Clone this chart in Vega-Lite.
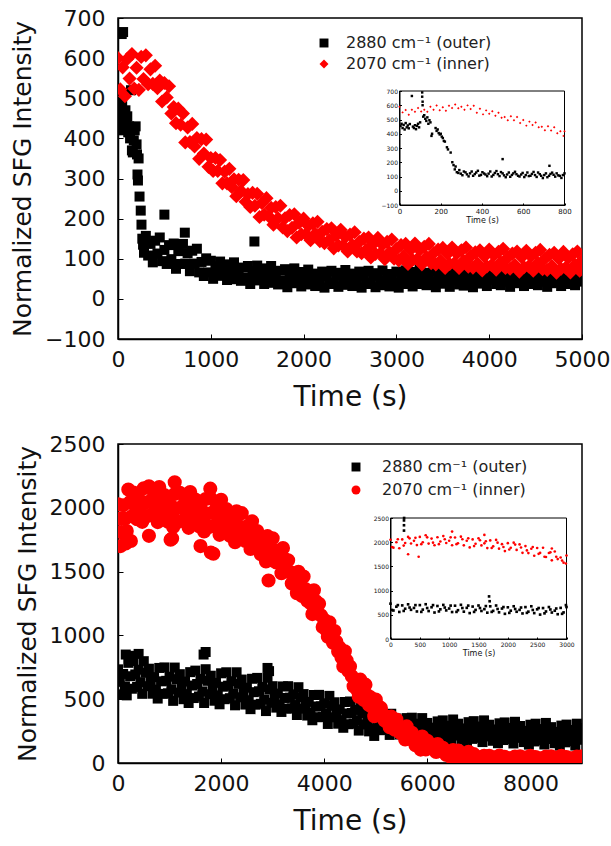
{
"$schema": "https://vega.github.io/schema/vega-lite/v6.json",
"padding": {"left": 9, "top": 6, "right": 5, "bottom": 5},
"spacing": 20,
"config": {
 "font": "DejaVu Sans",
 "view": {"stroke": "#000", "strokeWidth": 1.5},
 "axis": {"labelFont": "DejaVu Sans", "titleFont": "DejaVu Sans", "labelColor": "#111", "titleColor": "#111", "titleFontWeight": "normal", "domainColor": "#000", "domainWidth": 1.5, "tickColor": "#000", "grid": false, "labelFlush": false, "labelOverlap": false},
 "legend": {"labelFont": "DejaVu Sans", "labelColor": "#222"}
},
"resolve": {"scale": {"color": "independent", "shape": "independent"}},
"datasets": {
"A": [
{"s":"o","t":10,"v":480},{"s":"o","t":15,"v":440},{"s":"o","t":25,"v":465},{"s":"o","t":30,"v":420},{"s":"o","t":40,"v":660},{"s":"o","t":55,"v":665},{"s":"o","t":45,"v":490},{"s":"o","t":60,"v":450},{"s":"o","t":70,"v":425},{"s":"o","t":80,"v":470},{"s":"o","t":90,"v":440},{"s":"o","t":100,"v":455},{"s":"o","t":110,"v":415},{"s":"o","t":120,"v":430},{"s":"o","t":130,"v":400},{"s":"o","t":140,"v":520},{"s":"o","t":150,"v":370},{"s":"o","t":160,"v":365},{"s":"o","t":170,"v":395},{"s":"o","t":180,"v":420},{"s":"o","t":190,"v":430},{"s":"o","t":200,"v":385},{"s":"o","t":205,"v":360},{"s":"o","t":210,"v":310},{"s":"o","t":215,"v":295},{"s":"o","t":222,"v":350},{"s":"o","t":232,"v":255},{"s":"o","t":245,"v":220},{"s":"o","t":253,"v":185},{"s":"o","t":262,"v":150},{"s":"o","t":270,"v":135},{"s":"o","t":280,"v":115},{"s":"o","t":290,"v":145},{"s":"o","t":500,"v":210},{"s":"o","t":720,"v":165},{"s":"o","t":1470,"v":143},
{"s":"o","t":300,"v":157},{"s":"o","t":325,"v":108},{"s":"o","t":350,"v":137},{"s":"o","t":375,"v":91},{"s":"o","t":400,"v":145},{"s":"o","t":425,"v":113},{"s":"o","t":450,"v":153},{"s":"o","t":475,"v":94},{"s":"o","t":500,"v":122},{"s":"o","t":525,"v":87},{"s":"o","t":550,"v":134},{"s":"o","t":575,"v":99},{"s":"o","t":600,"v":138},{"s":"o","t":625,"v":75},{"s":"o","t":650,"v":119},{"s":"o","t":675,"v":87},{"s":"o","t":700,"v":137},{"s":"o","t":725,"v":88},{"s":"o","t":750,"v":114},{"s":"o","t":775,"v":69},{"s":"o","t":800,"v":120},{"s":"o","t":825,"v":88},{"s":"o","t":850,"v":125},{"s":"o","t":875,"v":66},{"s":"o","t":900,"v":92},{"s":"o","t":925,"v":57},{"s":"o","t":950,"v":101},{"s":"o","t":975,"v":66},
{"s":"o","t":1000,"v":95},{"s":"o","t":1025,"v":50},{"s":"o","t":1050,"v":81},{"s":"o","t":1075,"v":58},{"s":"o","t":1100,"v":93},{"s":"o","t":1125,"v":58},{"s":"o","t":1150,"v":79},{"s":"o","t":1175,"v":47},{"s":"o","t":1200,"v":86},{"s":"o","t":1225,"v":63},{"s":"o","t":1250,"v":91},{"s":"o","t":1275,"v":49},{"s":"o","t":1300,"v":70},{"s":"o","t":1325,"v":45},{"s":"o","t":1350,"v":78},{"s":"o","t":1375,"v":53},{"s":"o","t":1400,"v":82},{"s":"o","t":1425,"v":37},{"s":"o","t":1450,"v":69},{"s":"o","t":1475,"v":46},{"s":"o","t":1500,"v":83},{"s":"o","t":1525,"v":48},{"s":"o","t":1550,"v":69},{"s":"o","t":1575,"v":37},{"s":"o","t":1600,"v":76},{"s":"o","t":1625,"v":53},{"s":"o","t":1650,"v":82},{"s":"o","t":1675,"v":40},{"s":"o","t":1700,"v":61},{"s":"o","t":1725,"v":36},{"s":"o","t":1750,"v":70},{"s":"o","t":1775,"v":45},{"s":"o","t":1800,"v":74},{"s":"o","t":1825,"v":29},{"s":"o","t":1850,"v":62},{"s":"o","t":1875,"v":39},{"s":"o","t":1900,"v":76},{"s":"o","t":1925,"v":41},{"s":"o","t":1950,"v":63},{"s":"o","t":1975,"v":31},
{"s":"o","t":2000,"v":67},{"s":"o","t":2025,"v":48},{"s":"o","t":2050,"v":73},{"s":"o","t":2075,"v":36},{"s":"o","t":2100,"v":54},{"s":"o","t":2125,"v":32},{"s":"o","t":2150,"v":63},{"s":"o","t":2175,"v":41},{"s":"o","t":2200,"v":68},{"s":"o","t":2225,"v":28},{"s":"o","t":2250,"v":57},{"s":"o","t":2275,"v":37},{"s":"o","t":2300,"v":70},{"s":"o","t":2325,"v":39},{"s":"o","t":2350,"v":59},{"s":"o","t":2375,"v":30},{"s":"o","t":2400,"v":65},{"s":"o","t":2425,"v":46},{"s":"o","t":2450,"v":72},{"s":"o","t":2475,"v":35},{"s":"o","t":2500,"v":54},{"s":"o","t":2525,"v":32},{"s":"o","t":2550,"v":63},{"s":"o","t":2575,"v":41},{"s":"o","t":2600,"v":68},{"s":"o","t":2625,"v":28},{"s":"o","t":2650,"v":57},{"s":"o","t":2675,"v":37},{"s":"o","t":2700,"v":70},{"s":"o","t":2725,"v":39},{"s":"o","t":2750,"v":58},{"s":"o","t":2775,"v":29},{"s":"o","t":2800,"v":64},{"s":"o","t":2825,"v":45},{"s":"o","t":2850,"v":71},{"s":"o","t":2875,"v":34},{"s":"o","t":2900,"v":53},{"s":"o","t":2925,"v":31},{"s":"o","t":2950,"v":62},{"s":"o","t":2975,"v":40},
{"s":"o","t":3000,"v":68},{"s":"o","t":3025,"v":28},{"s":"o","t":3050,"v":57},{"s":"o","t":3075,"v":37},{"s":"o","t":3100,"v":71},{"s":"o","t":3125,"v":40},{"s":"o","t":3150,"v":60},{"s":"o","t":3175,"v":31},{"s":"o","t":3200,"v":67},{"s":"o","t":3225,"v":48},{"s":"o","t":3250,"v":74},{"s":"o","t":3275,"v":37},{"s":"o","t":3300,"v":56},{"s":"o","t":3325,"v":34},{"s":"o","t":3350,"v":65},{"s":"o","t":3375,"v":43},{"s":"o","t":3400,"v":69},{"s":"o","t":3425,"v":29},{"s":"o","t":3450,"v":58},{"s":"o","t":3475,"v":38},{"s":"o","t":3500,"v":70},{"s":"o","t":3525,"v":39},{"s":"o","t":3550,"v":59},{"s":"o","t":3575,"v":30},{"s":"o","t":3600,"v":65},{"s":"o","t":3625,"v":46},{"s":"o","t":3650,"v":73},{"s":"o","t":3675,"v":36},{"s":"o","t":3700,"v":55},{"s":"o","t":3725,"v":33},{"s":"o","t":3750,"v":64},{"s":"o","t":3775,"v":42},{"s":"o","t":3800,"v":69},{"s":"o","t":3825,"v":29},{"s":"o","t":3850,"v":58},{"s":"o","t":3875,"v":38},{"s":"o","t":3900,"v":72},{"s":"o","t":3925,"v":41},{"s":"o","t":3950,"v":61},{"s":"o","t":3975,"v":32},
{"s":"o","t":4000,"v":67},{"s":"o","t":4025,"v":48},{"s":"o","t":4050,"v":74},{"s":"o","t":4075,"v":37},{"s":"o","t":4100,"v":56},{"s":"o","t":4125,"v":34},{"s":"o","t":4150,"v":65},{"s":"o","t":4175,"v":43},{"s":"o","t":4200,"v":70},{"s":"o","t":4225,"v":30},{"s":"o","t":4250,"v":59},{"s":"o","t":4275,"v":39},{"s":"o","t":4300,"v":72},{"s":"o","t":4325,"v":41},{"s":"o","t":4350,"v":61},{"s":"o","t":4375,"v":32},{"s":"o","t":4400,"v":67},{"s":"o","t":4425,"v":48},{"s":"o","t":4450,"v":74},{"s":"o","t":4475,"v":37},{"s":"o","t":4500,"v":56},{"s":"o","t":4525,"v":34},{"s":"o","t":4550,"v":65},{"s":"o","t":4575,"v":43},{"s":"o","t":4600,"v":70},{"s":"o","t":4625,"v":30},{"s":"o","t":4650,"v":59},{"s":"o","t":4675,"v":39},{"s":"o","t":4700,"v":72},{"s":"o","t":4725,"v":41},{"s":"o","t":4750,"v":61},{"s":"o","t":4775,"v":32},{"s":"o","t":4800,"v":67},{"s":"o","t":4825,"v":48},{"s":"o","t":4850,"v":74},{"s":"o","t":4875,"v":37},{"s":"o","t":4900,"v":56},{"s":"o","t":4925,"v":34},{"s":"o","t":4950,"v":65},{"s":"o","t":4975,"v":43},{"s":"o","t":5000,"v":70},
{"s":"i","t":0,"v":600},{"s":"i","t":25,"v":522},{"s":"i","t":50,"v":577},{"s":"i","t":75,"v":505},{"s":"i","t":100,"v":598},{"s":"i","t":125,"v":549},{"s":"i","t":150,"v":610},{"s":"i","t":175,"v":524},{"s":"i","t":200,"v":576},{"s":"i","t":225,"v":521},{"s":"i","t":250,"v":603},{"s":"i","t":275,"v":548},{"s":"i","t":300,"v":607},{"s":"i","t":325,"v":535},{"s":"i","t":350,"v":572},{"s":"i","t":375,"v":536},{"s":"i","t":400,"v":581},{"s":"i","t":425,"v":525},{"s":"i","t":450,"v":544},{"s":"i","t":475,"v":492},{"s":"i","t":500,"v":538},{"s":"i","t":525,"v":502},{"s":"i","t":550,"v":530},{"s":"i","t":575,"v":462},{"s":"i","t":600,"v":478},{"s":"i","t":625,"v":438},{"s":"i","t":650,"v":474},{"s":"i","t":675,"v":434},{"s":"i","t":700,"v":462},{"s":"i","t":725,"v":390},{"s":"i","t":750,"v":427},{"s":"i","t":775,"v":391},{"s":"i","t":800,"v":436},{"s":"i","t":825,"v":380},{"s":"i","t":850,"v":401},{"s":"i","t":875,"v":349},{"s":"i","t":900,"v":398},{"s":"i","t":925,"v":362},{"s":"i","t":950,"v":397},{"s":"i","t":975,"v":329},
{"s":"i","t":1000,"v":351},{"s":"i","t":1025,"v":319},{"s":"i","t":1050,"v":351},{"s":"i","t":1075,"v":319},{"s":"i","t":1100,"v":346},{"s":"i","t":1125,"v":288},{"s":"i","t":1150,"v":317},{"s":"i","t":1175,"v":288},{"s":"i","t":1200,"v":324},{"s":"i","t":1225,"v":279},{"s":"i","t":1250,"v":298},{"s":"i","t":1275,"v":256},{"s":"i","t":1300,"v":297},{"s":"i","t":1325,"v":269},{"s":"i","t":1350,"v":296},{"s":"i","t":1375,"v":242},{"s":"i","t":1400,"v":261},{"s":"i","t":1425,"v":229},{"s":"i","t":1450,"v":264},{"s":"i","t":1475,"v":232},{"s":"i","t":1500,"v":262},{"s":"i","t":1525,"v":204},{"s":"i","t":1550,"v":239},{"s":"i","t":1575,"v":210},{"s":"i","t":1600,"v":251},{"s":"i","t":1625,"v":206},{"s":"i","t":1650,"v":227},{"s":"i","t":1675,"v":185},{"s":"i","t":1700,"v":229},{"s":"i","t":1725,"v":201},{"s":"i","t":1750,"v":232},{"s":"i","t":1775,"v":178},{"s":"i","t":1800,"v":201},{"s":"i","t":1825,"v":169},{"s":"i","t":1850,"v":209},{"s":"i","t":1875,"v":177},{"s":"i","t":1900,"v":211},{"s":"i","t":1925,"v":153},{"s":"i","t":1950,"v":190},{"s":"i","t":1975,"v":161},
{"s":"i","t":2000,"v":200},{"s":"i","t":2025,"v":161},{"s":"i","t":2050,"v":182},{"s":"i","t":2075,"v":146},{"s":"i","t":2100,"v":188},{"s":"i","t":2125,"v":162},{"s":"i","t":2150,"v":192},{"s":"i","t":2175,"v":144},{"s":"i","t":2200,"v":167},{"s":"i","t":2225,"v":139},{"s":"i","t":2250,"v":174},{"s":"i","t":2275,"v":146},{"s":"i","t":2300,"v":176},{"s":"i","t":2325,"v":126},{"s":"i","t":2350,"v":158},{"s":"i","t":2375,"v":133},{"s":"i","t":2400,"v":172},{"s":"i","t":2425,"v":133},{"s":"i","t":2450,"v":154},{"s":"i","t":2475,"v":118},{"s":"i","t":2500,"v":160},{"s":"i","t":2525,"v":134},{"s":"i","t":2550,"v":166},{"s":"i","t":2575,"v":118},{"s":"i","t":2600,"v":142},{"s":"i","t":2625,"v":114},{"s":"i","t":2650,"v":150},{"s":"i","t":2675,"v":122},{"s":"i","t":2700,"v":153},{"s":"i","t":2725,"v":103},{"s":"i","t":2750,"v":137},{"s":"i","t":2775,"v":112},{"s":"i","t":2800,"v":152},{"s":"i","t":2825,"v":113},{"s":"i","t":2850,"v":135},{"s":"i","t":2875,"v":99},{"s":"i","t":2900,"v":142},{"s":"i","t":2925,"v":116},{"s":"i","t":2950,"v":148},{"s":"i","t":2975,"v":100},
{"s":"i","t":3000,"v":124},{"s":"i","t":3025,"v":96},{"s":"i","t":3050,"v":134},{"s":"i","t":3075,"v":106},{"s":"i","t":3100,"v":137},{"s":"i","t":3125,"v":87},{"s":"i","t":3150,"v":122},{"s":"i","t":3175,"v":97},{"s":"i","t":3200,"v":138},{"s":"i","t":3225,"v":99},{"s":"i","t":3250,"v":122},{"s":"i","t":3275,"v":86},{"s":"i","t":3300,"v":130},{"s":"i","t":3325,"v":104},{"s":"i","t":3350,"v":137},{"s":"i","t":3375,"v":89},{"s":"i","t":3400,"v":114},{"s":"i","t":3425,"v":86},{"s":"i","t":3450,"v":123},{"s":"i","t":3475,"v":95},{"s":"i","t":3500,"v":127},{"s":"i","t":3525,"v":77},{"s":"i","t":3550,"v":112},{"s":"i","t":3575,"v":87},{"s":"i","t":3600,"v":128},{"s":"i","t":3625,"v":89},{"s":"i","t":3650,"v":113},{"s":"i","t":3675,"v":77},{"s":"i","t":3700,"v":121},{"s":"i","t":3725,"v":95},{"s":"i","t":3750,"v":128},{"s":"i","t":3775,"v":80},{"s":"i","t":3800,"v":106},{"s":"i","t":3825,"v":78},{"s":"i","t":3850,"v":116},{"s":"i","t":3875,"v":88},{"s":"i","t":3900,"v":121},{"s":"i","t":3925,"v":71},{"s":"i","t":3950,"v":106},{"s":"i","t":3975,"v":81},
{"s":"i","t":4000,"v":123},{"s":"i","t":4025,"v":84},{"s":"i","t":4050,"v":109},{"s":"i","t":4075,"v":73},{"s":"i","t":4100,"v":117},{"s":"i","t":4125,"v":91},{"s":"i","t":4150,"v":125},{"s":"i","t":4175,"v":77},{"s":"i","t":4200,"v":103},{"s":"i","t":4225,"v":75},{"s":"i","t":4250,"v":113},{"s":"i","t":4275,"v":85},{"s":"i","t":4300,"v":118},{"s":"i","t":4325,"v":68},{"s":"i","t":4350,"v":104},{"s":"i","t":4375,"v":79},{"s":"i","t":4400,"v":120},{"s":"i","t":4425,"v":81},{"s":"i","t":4450,"v":106},{"s":"i","t":4475,"v":70},{"s":"i","t":4500,"v":115},{"s":"i","t":4525,"v":89},{"s":"i","t":4550,"v":122},{"s":"i","t":4575,"v":74},{"s":"i","t":4600,"v":100},{"s":"i","t":4625,"v":72},{"s":"i","t":4650,"v":110},{"s":"i","t":4675,"v":82},{"s":"i","t":4700,"v":115},{"s":"i","t":4725,"v":65},{"s":"i","t":4750,"v":100},{"s":"i","t":4775,"v":75},{"s":"i","t":4800,"v":117},{"s":"i","t":4825,"v":78},{"s":"i","t":4850,"v":102},{"s":"i","t":4875,"v":66},{"s":"i","t":4900,"v":111},{"s":"i","t":4925,"v":85},{"s":"i","t":4950,"v":118},{"s":"i","t":4975,"v":70},{"s":"i","t":5000,"v":96}
],
"AI": [
{"s":"o","t":5,"v":455},{"s":"o","t":10,"v":470},{"s":"o","t":15,"v":440},{"s":"o","t":20,"v":462},{"s":"o","t":25,"v":430},{"s":"o","t":30,"v":475},{"s":"o","t":35,"v":445},{"s":"o","t":40,"v":458},{"s":"o","t":45,"v":438},{"s":"o","t":50,"v":468},{"s":"o","t":60,"v":665},{"s":"o","t":65,"v":450},{"s":"o","t":70,"v":440},{"s":"o","t":75,"v":460},{"s":"o","t":80,"v":432},{"s":"o","t":85,"v":455},{"s":"o","t":90,"v":470},{"s":"o","t":95,"v":445},{"s":"o","t":100,"v":480},{"s":"o","t":110,"v":690},{"s":"o","t":110,"v":660},{"s":"o","t":112,"v":625},{"s":"o","t":112,"v":600},{"s":"o","t":115,"v":520},{"s":"o","t":120,"v":530},{"s":"o","t":125,"v":505},{"s":"o","t":130,"v":490},{"s":"o","t":135,"v":515},{"s":"o","t":140,"v":470},{"s":"o","t":145,"v":495},{"s":"o","t":150,"v":480},{"s":"o","t":155,"v":385},{"s":"o","t":158,"v":400},{"s":"o","t":175,"v":440},{"s":"o","t":180,"v":420},{"s":"o","t":185,"v":430},{"s":"o","t":190,"v":405},{"s":"o","t":195,"v":395},{"s":"o","t":200,"v":400},{"s":"o","t":205,"v":380},{"s":"o","t":210,"v":370},{"s":"o","t":215,"v":350},{"s":"o","t":220,"v":345},{"s":"o","t":230,"v":305},{"s":"o","t":235,"v":290},{"s":"o","t":248,"v":268},{"s":"o","t":256,"v":200},{"s":"o","t":262,"v":180},{"s":"o","t":268,"v":150},{"s":"o","t":272,"v":170},{"s":"o","t":278,"v":130},{"s":"o","t":285,"v":125},
{"s":"o","t":290,"v":145},{"s":"o","t":305,"v":109},{"s":"o","t":320,"v":129},{"s":"o","t":335,"v":101},{"s":"o","t":350,"v":135},{"s":"o","t":365,"v":117},{"s":"o","t":380,"v":140},{"s":"o","t":395,"v":111},{"s":"o","t":410,"v":121},{"s":"o","t":425,"v":102},{"s":"o","t":440,"v":135},{"s":"o","t":455,"v":111},{"s":"o","t":470,"v":138},{"s":"o","t":485,"v":103},{"s":"o","t":500,"v":122},{"s":"o","t":500,"v":222},{"s":"o","t":515,"v":95},{"s":"o","t":530,"v":128},{"s":"o","t":545,"v":111},{"s":"o","t":560,"v":133},{"s":"o","t":575,"v":105},{"s":"o","t":590,"v":114},{"s":"o","t":605,"v":96},{"s":"o","t":620,"v":128},{"s":"o","t":635,"v":105},{"s":"o","t":650,"v":132},{"s":"o","t":665,"v":97},{"s":"o","t":680,"v":116},{"s":"o","t":695,"v":89},{"s":"o","t":710,"v":122},{"s":"o","t":725,"v":105},{"s":"o","t":727,"v":175},{"s":"o","t":740,"v":127},{"s":"o","t":755,"v":99},{"s":"o","t":770,"v":108},{"s":"o","t":785,"v":90},{"s":"o","t":800,"v":122},
{"s":"o","t":297,"v":120},{"s":"o","t":312,"v":135},{"s":"o","t":327,"v":115},{"s":"o","t":342,"v":122},{"s":"o","t":357,"v":105},{"s":"o","t":372,"v":128},{"s":"o","t":387,"v":106},{"s":"o","t":402,"v":130},{"s":"o","t":417,"v":114},{"s":"o","t":432,"v":120},{"s":"o","t":447,"v":100},{"s":"o","t":462,"v":125},{"s":"o","t":477,"v":116},{"s":"o","t":492,"v":131},{"s":"o","t":507,"v":108},{"s":"o","t":522,"v":114},{"s":"o","t":537,"v":98},{"s":"o","t":552,"v":122},{"s":"o","t":567,"v":116},{"s":"o","t":582,"v":100},{"s":"o","t":597,"v":125},{"s":"o","t":612,"v":110},{"s":"o","t":627,"v":103},{"s":"o","t":642,"v":118},{"s":"o","t":657,"v":110},{"s":"o","t":672,"v":128},{"s":"o","t":687,"v":105},{"s":"o","t":702,"v":110},{"s":"o","t":717,"v":95},{"s":"o","t":732,"v":118},{"s":"o","t":747,"v":112},{"s":"o","t":762,"v":122},{"s":"o","t":777,"v":104},{"s":"o","t":792,"v":110},
{"s":"i","t":0,"v":590},{"s":"i","t":15,"v":550},{"s":"i","t":30,"v":566},{"s":"i","t":45,"v":534},{"s":"i","t":60,"v":569},{"s":"i","t":75,"v":555},{"s":"i","t":90,"v":581},{"s":"i","t":105,"v":556},{"s":"i","t":120,"v":569},{"s":"i","t":135,"v":554},{"s":"i","t":150,"v":590},{"s":"i","t":165,"v":568},{"s":"i","t":180,"v":598},{"s":"i","t":195,"v":565},{"s":"i","t":210,"v":586},{"s":"i","t":225,"v":561},{"s":"i","t":240,"v":596},{"s":"i","t":255,"v":581},{"s":"i","t":270,"v":605},{"s":"i","t":285,"v":579},{"s":"i","t":300,"v":590},{"s":"i","t":315,"v":569},{"s":"i","t":330,"v":599},{"s":"i","t":345,"v":573},{"s":"i","t":360,"v":596},{"s":"i","t":375,"v":548},{"s":"i","t":390,"v":576},{"s":"i","t":405,"v":536},{"s":"i","t":420,"v":564},{"s":"i","t":435,"v":541},{"s":"i","t":450,"v":558},{"s":"i","t":465,"v":526},{"s":"i","t":480,"v":548},{"s":"i","t":495,"v":512},{"s":"i","t":510,"v":517},{"s":"i","t":525,"v":495},{"s":"i","t":540,"v":523},{"s":"i","t":555,"v":495},{"s":"i","t":570,"v":517},{"s":"i","t":585,"v":476},{"s":"i","t":600,"v":497},{"s":"i","t":615,"v":457},{"s":"i","t":630,"v":485},{"s":"i","t":645,"v":462},{"s":"i","t":660,"v":479},{"s":"i","t":675,"v":445},{"s":"i","t":690,"v":449},{"s":"i","t":705,"v":425},{"s":"i","t":720,"v":452},{"s":"i","t":735,"v":423},{"s":"i","t":750,"v":445},{"s":"i","t":765,"v":404},{"s":"i","t":780,"v":418},{"s":"i","t":795,"v":385},{"s":"i","t":800,"v":417}
],
"B": [
{"s":"o","t":0,"v":734},{"s":"o","t":35,"v":636},{"s":"o","t":70,"v":538},{"s":"o","t":100,"v":698},{"s":"o","t":135,"v":600},{"s":"o","t":170,"v":530},{"s":"o","t":200,"v":785},{"s":"o","t":235,"v":680},{"s":"o","t":270,"v":582},{"s":"o","t":300,"v":799},{"s":"o","t":335,"v":694},{"s":"o","t":370,"v":596},{"s":"o","t":400,"v":731},{"s":"o","t":435,"v":633},{"s":"o","t":470,"v":542},{"s":"o","t":500,"v":798},{"s":"o","t":535,"v":707},{"s":"o","t":570,"v":602},{"s":"o","t":600,"v":739},{"s":"o","t":635,"v":641},{"s":"o","t":670,"v":543},{"s":"o","t":700,"v":673},{"s":"o","t":735,"v":575},{"s":"o","t":770,"v":505},{"s":"o","t":800,"v":745},{"s":"o","t":835,"v":640},{"s":"o","t":870,"v":542},{"s":"o","t":900,"v":749},{"s":"o","t":935,"v":644},{"s":"o","t":970,"v":546},
{"s":"o","t":1000,"v":676},{"s":"o","t":1035,"v":578},{"s":"o","t":1070,"v":487},{"s":"o","t":1100,"v":748},{"s":"o","t":1135,"v":657},{"s":"o","t":1170,"v":552},{"s":"o","t":1200,"v":696},{"s":"o","t":1235,"v":598},{"s":"o","t":1270,"v":500},{"s":"o","t":1300,"v":638},{"s":"o","t":1335,"v":540},{"s":"o","t":1370,"v":470},{"s":"o","t":1400,"v":712},{"s":"o","t":1435,"v":607},{"s":"o","t":1470,"v":509},{"s":"o","t":1500,"v":724},{"s":"o","t":1535,"v":619},{"s":"o","t":1570,"v":521},{"s":"o","t":1600,"v":659},{"s":"o","t":1635,"v":561},{"s":"o","t":1670,"v":470},{"s":"o","t":1700,"v":735},{"s":"o","t":1735,"v":644},{"s":"o","t":1770,"v":539},{"s":"o","t":1800,"v":684},{"s":"o","t":1835,"v":586},{"s":"o","t":1870,"v":488},{"s":"o","t":1900,"v":628},{"s":"o","t":1935,"v":530},{"s":"o","t":1970,"v":460},
{"s":"o","t":2000,"v":703},{"s":"o","t":2035,"v":598},{"s":"o","t":2070,"v":500},{"s":"o","t":2100,"v":711},{"s":"o","t":2135,"v":606},{"s":"o","t":2170,"v":508},{"s":"o","t":2200,"v":641},{"s":"o","t":2235,"v":543},{"s":"o","t":2270,"v":452},{"s":"o","t":2300,"v":711},{"s":"o","t":2335,"v":620},{"s":"o","t":2370,"v":515},{"s":"o","t":2400,"v":654},{"s":"o","t":2435,"v":556},{"s":"o","t":2470,"v":458},{"s":"o","t":2500,"v":590},{"s":"o","t":2535,"v":492},{"s":"o","t":2570,"v":422},{"s":"o","t":2600,"v":660},{"s":"o","t":2635,"v":555},{"s":"o","t":2670,"v":457},{"s":"o","t":2700,"v":667},{"s":"o","t":2735,"v":562},{"s":"o","t":2770,"v":464},{"s":"o","t":2800,"v":596},{"s":"o","t":2835,"v":498},{"s":"o","t":2870,"v":407},{"s":"o","t":2900,"v":668},{"s":"o","t":2935,"v":577},{"s":"o","t":2970,"v":472},
{"s":"o","t":3000,"v":602},{"s":"o","t":3035,"v":518},{"s":"o","t":3070,"v":434},{"s":"o","t":3100,"v":544},{"s":"o","t":3135,"v":460},{"s":"o","t":3170,"v":400},{"s":"o","t":3200,"v":600},{"s":"o","t":3235,"v":510},{"s":"o","t":3270,"v":426},{"s":"o","t":3300,"v":602},{"s":"o","t":3335,"v":512},{"s":"o","t":3370,"v":428},{"s":"o","t":3400,"v":538},{"s":"o","t":3435,"v":454},{"s":"o","t":3470,"v":376},{"s":"o","t":3500,"v":594},{"s":"o","t":3535,"v":516},{"s":"o","t":3570,"v":426},{"s":"o","t":3600,"v":540},{"s":"o","t":3635,"v":456},{"s":"o","t":3670,"v":372},{"s":"o","t":3700,"v":479},{"s":"o","t":3735,"v":395},{"s":"o","t":3770,"v":335},{"s":"o","t":3800,"v":533},{"s":"o","t":3835,"v":443},{"s":"o","t":3870,"v":359},{"s":"o","t":3900,"v":534},{"s":"o","t":3935,"v":444},{"s":"o","t":3970,"v":360},
{"s":"o","t":4000,"v":468},{"s":"o","t":4035,"v":384},{"s":"o","t":4070,"v":306},{"s":"o","t":4100,"v":526},{"s":"o","t":4135,"v":448},{"s":"o","t":4170,"v":358},{"s":"o","t":4200,"v":476},{"s":"o","t":4235,"v":392},{"s":"o","t":4270,"v":308},{"s":"o","t":4300,"v":420},{"s":"o","t":4335,"v":336},{"s":"o","t":4370,"v":276},{"s":"o","t":4400,"v":478},{"s":"o","t":4435,"v":388},{"s":"o","t":4470,"v":304},{"s":"o","t":4500,"v":482},{"s":"o","t":4535,"v":392},{"s":"o","t":4570,"v":308},{"s":"o","t":4600,"v":416},{"s":"o","t":4635,"v":332},{"s":"o","t":4670,"v":254},{"s":"o","t":4700,"v":470},{"s":"o","t":4735,"v":392},{"s":"o","t":4770,"v":302},{"s":"o","t":4800,"v":416},{"s":"o","t":4835,"v":332},{"s":"o","t":4870,"v":248},{"s":"o","t":4900,"v":356},{"s":"o","t":4935,"v":272},{"s":"o","t":4970,"v":212},
{"s":"o","t":5000,"v":388},{"s":"o","t":5035,"v":320},{"s":"o","t":5070,"v":257},{"s":"o","t":5100,"v":390},{"s":"o","t":5135,"v":322},{"s":"o","t":5170,"v":259},{"s":"o","t":5200,"v":342},{"s":"o","t":5235,"v":279},{"s":"o","t":5270,"v":220},{"s":"o","t":5300,"v":386},{"s":"o","t":5335,"v":327},{"s":"o","t":5370,"v":260},{"s":"o","t":5400,"v":349},{"s":"o","t":5435,"v":286},{"s":"o","t":5470,"v":223},{"s":"o","t":5500,"v":308},{"s":"o","t":5535,"v":245},{"s":"o","t":5570,"v":200},{"s":"o","t":5600,"v":352},{"s":"o","t":5635,"v":284},{"s":"o","t":5670,"v":221},{"s":"o","t":5700,"v":355},{"s":"o","t":5735,"v":287},{"s":"o","t":5770,"v":224},{"s":"o","t":5800,"v":308},{"s":"o","t":5835,"v":245},{"s":"o","t":5870,"v":186},{"s":"o","t":5900,"v":352},{"s":"o","t":5935,"v":293},{"s":"o","t":5970,"v":226},
{"s":"o","t":6000,"v":314},{"s":"o","t":6035,"v":251},{"s":"o","t":6070,"v":188},{"s":"o","t":6100,"v":277},{"s":"o","t":6135,"v":214},{"s":"o","t":6170,"v":169},{"s":"o","t":6200,"v":326},{"s":"o","t":6235,"v":258},{"s":"o","t":6270,"v":195},{"s":"o","t":6300,"v":334},{"s":"o","t":6335,"v":266},{"s":"o","t":6370,"v":203},{"s":"o","t":6400,"v":292},{"s":"o","t":6435,"v":229},{"s":"o","t":6470,"v":170},{"s":"o","t":6500,"v":341},{"s":"o","t":6535,"v":282},{"s":"o","t":6570,"v":215},{"s":"o","t":6600,"v":308},{"s":"o","t":6635,"v":245},{"s":"o","t":6670,"v":182},{"s":"o","t":6700,"v":271},{"s":"o","t":6735,"v":208},{"s":"o","t":6770,"v":163},{"s":"o","t":6800,"v":320},{"s":"o","t":6835,"v":252},{"s":"o","t":6870,"v":189},{"s":"o","t":6900,"v":328},{"s":"o","t":6935,"v":260},{"s":"o","t":6970,"v":197},
{"s":"o","t":7000,"v":286},{"s":"o","t":7035,"v":223},{"s":"o","t":7070,"v":164},{"s":"o","t":7100,"v":334},{"s":"o","t":7135,"v":275},{"s":"o","t":7170,"v":208},{"s":"o","t":7200,"v":300},{"s":"o","t":7235,"v":237},{"s":"o","t":7270,"v":174},{"s":"o","t":7300,"v":263},{"s":"o","t":7335,"v":200},{"s":"o","t":7370,"v":155},{"s":"o","t":7400,"v":311},{"s":"o","t":7435,"v":243},{"s":"o","t":7470,"v":180},{"s":"o","t":7500,"v":318},{"s":"o","t":7535,"v":250},{"s":"o","t":7570,"v":187},{"s":"o","t":7600,"v":275},{"s":"o","t":7635,"v":212},{"s":"o","t":7670,"v":153},{"s":"o","t":7700,"v":323},{"s":"o","t":7735,"v":264},{"s":"o","t":7770,"v":197},{"s":"o","t":7800,"v":290},{"s":"o","t":7835,"v":227},{"s":"o","t":7870,"v":164},{"s":"o","t":7900,"v":252},{"s":"o","t":7935,"v":189},{"s":"o","t":7970,"v":144},
{"s":"o","t":8000,"v":300},{"s":"o","t":8035,"v":232},{"s":"o","t":8070,"v":169},{"s":"o","t":8100,"v":308},{"s":"o","t":8135,"v":240},{"s":"o","t":8170,"v":177},{"s":"o","t":8200,"v":266},{"s":"o","t":8235,"v":203},{"s":"o","t":8270,"v":145},{"s":"o","t":8300,"v":314},{"s":"o","t":8335,"v":255},{"s":"o","t":8370,"v":188},{"s":"o","t":8400,"v":281},{"s":"o","t":8435,"v":218},{"s":"o","t":8470,"v":155},{"s":"o","t":8500,"v":244},{"s":"o","t":8535,"v":181},{"s":"o","t":8570,"v":136},{"s":"o","t":8600,"v":293},{"s":"o","t":8635,"v":225},{"s":"o","t":8670,"v":162},{"s":"o","t":8700,"v":301},{"s":"o","t":8735,"v":233},{"s":"o","t":8770,"v":170},{"s":"o","t":8800,"v":259},{"s":"o","t":8835,"v":196},{"s":"o","t":8870,"v":137},{"s":"o","t":8900,"v":308},{"s":"o","t":8935,"v":249},{"s":"o","t":8970,"v":182},{"s":"o","t":9000,"v":274},
{"s":"o","t":150,"v":850},{"s":"o","t":250,"v":840},{"s":"o","t":400,"v":855},{"s":"o","t":1660,"v":850},{"s":"o","t":1700,"v":870},{"s":"o","t":2900,"v":745},{"s":"o","t":2930,"v":720},
{"s":"i","t":0,"v":2028},{"s":"i","t":35,"v":1915},{"s":"i","t":70,"v":1810},{"s":"i","t":100,"v":2020},{"s":"i","t":135,"v":1915},{"s":"i","t":170,"v":1818},{"s":"i","t":200,"v":2143},{"s":"i","t":235,"v":2045},{"s":"i","t":270,"v":1933},{"s":"i","t":300,"v":2120},{"s":"i","t":335,"v":2015},{"s":"i","t":370,"v":1910},{"s":"i","t":400,"v":2070},{"s":"i","t":435,"v":1965},{"s":"i","t":470,"v":1890},{"s":"i","t":500,"v":2153},{"s":"i","t":535,"v":2040},{"s":"i","t":570,"v":1935},{"s":"i","t":600,"v":2168},{"s":"i","t":635,"v":2055},{"s":"i","t":670,"v":1950},{"s":"i","t":700,"v":2090},{"s":"i","t":735,"v":1985},{"s":"i","t":770,"v":1888},{"s":"i","t":800,"v":2163},{"s":"i","t":835,"v":2065},{"s":"i","t":870,"v":1953},{"s":"i","t":900,"v":2100},{"s":"i","t":935,"v":1995},{"s":"i","t":970,"v":1890},
{"s":"i","t":1000,"v":2030},{"s":"i","t":1035,"v":1925},{"s":"i","t":1070,"v":1850},{"s":"i","t":1100,"v":2108},{"s":"i","t":1135,"v":1995},{"s":"i","t":1170,"v":1890},{"s":"i","t":1200,"v":2118},{"s":"i","t":1235,"v":2005},{"s":"i","t":1270,"v":1900},{"s":"i","t":1300,"v":2045},{"s":"i","t":1335,"v":1940},{"s":"i","t":1370,"v":1843},{"s":"i","t":1400,"v":2123},{"s":"i","t":1435,"v":2025},{"s":"i","t":1470,"v":1913},{"s":"i","t":1500,"v":2065},{"s":"i","t":1535,"v":1960},{"s":"i","t":1570,"v":1855},{"s":"i","t":1600,"v":1995},{"s":"i","t":1635,"v":1890},{"s":"i","t":1670,"v":1815},{"s":"i","t":1700,"v":2068},{"s":"i","t":1735,"v":1955},{"s":"i","t":1770,"v":1850},{"s":"i","t":1800,"v":2073},{"s":"i","t":1835,"v":1960},{"s":"i","t":1870,"v":1855},{"s":"i","t":1900,"v":1990},{"s":"i","t":1935,"v":1885},{"s":"i","t":1970,"v":1788},
{"s":"i","t":2000,"v":2063},{"s":"i","t":2035,"v":1965},{"s":"i","t":2070,"v":1853},{"s":"i","t":2100,"v":1990},{"s":"i","t":2135,"v":1885},{"s":"i","t":2170,"v":1780},{"s":"i","t":2200,"v":1910},{"s":"i","t":2235,"v":1805},{"s":"i","t":2270,"v":1730},{"s":"i","t":2300,"v":1973},{"s":"i","t":2335,"v":1860},{"s":"i","t":2370,"v":1755},{"s":"i","t":2400,"v":1958},{"s":"i","t":2435,"v":1845},{"s":"i","t":2470,"v":1740},{"s":"i","t":2500,"v":1852},{"s":"i","t":2535,"v":1761},{"s":"i","t":2570,"v":1677},{"s":"i","t":2600,"v":1894},{"s":"i","t":2635,"v":1809},{"s":"i","t":2670,"v":1712},{"s":"i","t":2700,"v":1818},{"s":"i","t":2735,"v":1727},{"s":"i","t":2770,"v":1636},{"s":"i","t":2800,"v":1736},{"s":"i","t":2835,"v":1645},{"s":"i","t":2870,"v":1580},{"s":"i","t":2900,"v":1778},{"s":"i","t":2935,"v":1680},{"s":"i","t":2970,"v":1589},
{"s":"i","t":3000,"v":1761},{"s":"i","t":3035,"v":1663},{"s":"i","t":3070,"v":1572},{"s":"i","t":3100,"v":1662},{"s":"i","t":3135,"v":1571},{"s":"i","t":3170,"v":1487},{"s":"i","t":3200,"v":1684},{"s":"i","t":3235,"v":1599},{"s":"i","t":3270,"v":1502},{"s":"i","t":3300,"v":1588},{"s":"i","t":3335,"v":1497},{"s":"i","t":3370,"v":1406},{"s":"i","t":3400,"v":1486},{"s":"i","t":3435,"v":1395},{"s":"i","t":3470,"v":1330},{"s":"i","t":3500,"v":1498},{"s":"i","t":3535,"v":1400},{"s":"i","t":3570,"v":1309},{"s":"i","t":3600,"v":1461},{"s":"i","t":3635,"v":1363},{"s":"i","t":3670,"v":1272},{"s":"i","t":3700,"v":1342},{"s":"i","t":3735,"v":1251},{"s":"i","t":3770,"v":1167},{"s":"i","t":3800,"v":1354},{"s":"i","t":3835,"v":1269},{"s":"i","t":3870,"v":1172},{"s":"i","t":3900,"v":1248},{"s":"i","t":3935,"v":1157},{"s":"i","t":3970,"v":1066},
{"s":"i","t":4000,"v":1122},{"s":"i","t":4035,"v":1045},{"s":"i","t":4070,"v":990},{"s":"i","t":4100,"v":1103},{"s":"i","t":4135,"v":1020},{"s":"i","t":4170,"v":943},{"s":"i","t":4200,"v":1034},{"s":"i","t":4235,"v":951},{"s":"i","t":4270,"v":874},{"s":"i","t":4300,"v":904},{"s":"i","t":4335,"v":827},{"s":"i","t":4370,"v":756},{"s":"i","t":4400,"v":875},{"s":"i","t":4435,"v":803},{"s":"i","t":4470,"v":721},{"s":"i","t":4500,"v":756},{"s":"i","t":4535,"v":679},{"s":"i","t":4570,"v":602},{"s":"i","t":4600,"v":652},{"s":"i","t":4635,"v":575},{"s":"i","t":4670,"v":520},{"s":"i","t":4700,"v":653},{"s":"i","t":4735,"v":570},{"s":"i","t":4770,"v":493},{"s":"i","t":4800,"v":614},{"s":"i","t":4835,"v":531},{"s":"i","t":4870,"v":454},{"s":"i","t":4900,"v":514},{"s":"i","t":4935,"v":437},{"s":"i","t":4970,"v":366},
{"s":"i","t":5000,"v":497},{"s":"i","t":5035,"v":451},{"s":"i","t":5070,"v":399},{"s":"i","t":5100,"v":432},{"s":"i","t":5135,"v":383},{"s":"i","t":5170,"v":334},{"s":"i","t":5200,"v":364},{"s":"i","t":5235,"v":315},{"s":"i","t":5270,"v":280},{"s":"i","t":5300,"v":363},{"s":"i","t":5335,"v":310},{"s":"i","t":5370,"v":261},{"s":"i","t":5400,"v":340},{"s":"i","t":5435,"v":287},{"s":"i","t":5470,"v":238},{"s":"i","t":5500,"v":278},{"s":"i","t":5535,"v":229},{"s":"i","t":5570,"v":184},{"s":"i","t":5600,"v":287},{"s":"i","t":5635,"v":241},{"s":"i","t":5670,"v":189},{"s":"i","t":5700,"v":237},{"s":"i","t":5735,"v":188},{"s":"i","t":5770,"v":139},{"s":"i","t":5800,"v":189},{"s":"i","t":5835,"v":140},{"s":"i","t":5870,"v":105},{"s":"i","t":5900,"v":208},{"s":"i","t":5935,"v":155},{"s":"i","t":5970,"v":106},
{"s":"i","t":6000,"v":174},{"s":"i","t":6035,"v":144},{"s":"i","t":6070,"v":116},{"s":"i","t":6100,"v":141},{"s":"i","t":6135,"v":113},{"s":"i","t":6170,"v":87},{"s":"i","t":6200,"v":148},{"s":"i","t":6235,"v":122},{"s":"i","t":6270,"v":92},{"s":"i","t":6300,"v":119},{"s":"i","t":6335,"v":91},{"s":"i","t":6370,"v":63},{"s":"i","t":6400,"v":90},{"s":"i","t":6435,"v":62},{"s":"i","t":6470,"v":42},{"s":"i","t":6500,"v":102},{"s":"i","t":6535,"v":72},{"s":"i","t":6570,"v":44},{"s":"i","t":6600,"v":97},{"s":"i","t":6635,"v":67},{"s":"i","t":6670,"v":39},{"s":"i","t":6700,"v":71},{"s":"i","t":6735,"v":43},{"s":"i","t":6770,"v":17},{"s":"i","t":6800,"v":88},{"s":"i","t":6835,"v":62},{"s":"i","t":6870,"v":32},{"s":"i","t":6900,"v":69},{"s":"i","t":6935,"v":41},{"s":"i","t":6970,"v":13},
{"s":"i","t":7000,"v":45},{"s":"i","t":7035,"v":28},{"s":"i","t":7070,"v":15},{"s":"i","t":7100,"v":57},{"s":"i","t":7135,"v":38},{"s":"i","t":7170,"v":20},{"s":"i","t":7200,"v":57},{"s":"i","t":7235,"v":39},{"s":"i","t":7270,"v":21},{"s":"i","t":7300,"v":45},{"s":"i","t":7335,"v":28},{"s":"i","t":7370,"v":11},{"s":"i","t":7400,"v":58},{"s":"i","t":7435,"v":42},{"s":"i","t":7470,"v":23},{"s":"i","t":7500,"v":48},{"s":"i","t":7535,"v":31},{"s":"i","t":7570,"v":13},{"s":"i","t":7600,"v":37},{"s":"i","t":7635,"v":20},{"s":"i","t":7670,"v":7},{"s":"i","t":7700,"v":51},{"s":"i","t":7735,"v":32},{"s":"i","t":7770,"v":14},{"s":"i","t":7800,"v":53},{"s":"i","t":7835,"v":35},{"s":"i","t":7870,"v":17},{"s":"i","t":7900,"v":42},{"s":"i","t":7935,"v":25},{"s":"i","t":7970,"v":8},
{"s":"i","t":8000,"v":56},{"s":"i","t":8035,"v":40},{"s":"i","t":8070,"v":21},{"s":"i","t":8100,"v":47},{"s":"i","t":8135,"v":30},{"s":"i","t":8170,"v":12},{"s":"i","t":8200,"v":37},{"s":"i","t":8235,"v":20},{"s":"i","t":8270,"v":7},{"s":"i","t":8300,"v":51},{"s":"i","t":8335,"v":32},{"s":"i","t":8370,"v":14},{"s":"i","t":8400,"v":53},{"s":"i","t":8435,"v":35},{"s":"i","t":8470,"v":17},{"s":"i","t":8500,"v":42},{"s":"i","t":8535,"v":25},{"s":"i","t":8570,"v":8},{"s":"i","t":8600,"v":56},{"s":"i","t":8635,"v":40},{"s":"i","t":8670,"v":21},{"s":"i","t":8700,"v":47},{"s":"i","t":8735,"v":30},{"s":"i","t":8770,"v":12},{"s":"i","t":8800,"v":37},{"s":"i","t":8835,"v":20},{"s":"i","t":8870,"v":7},{"s":"i","t":8900,"v":51},{"s":"i","t":8935,"v":32},{"s":"i","t":8970,"v":14},{"s":"i","t":9000,"v":53},
{"s":"i","t":50,"v":1700},{"s":"i","t":150,"v":1720},{"s":"i","t":250,"v":1740},{"s":"i","t":600,"v":1780},{"s":"i","t":1020,"v":1750},{"s":"i","t":1050,"v":1760},{"s":"i","t":1100,"v":2200},{"s":"i","t":1600,"v":1700},{"s":"i","t":1800,"v":1650},{"s":"i","t":1850,"v":1640},{"s":"i","t":1790,"v":2150},{"s":"i","t":2920,"v":1430}
],
"BI": [
{"s":"o","t":0,"v":730},{"s":"o","t":50,"v":589},{"s":"o","t":100,"v":668},{"s":"o","t":150,"v":559},{"s":"o","t":200,"v":694},{"s":"o","t":250,"v":625},{"s":"o","t":300,"v":716},{"s":"o","t":350,"v":603},{"s":"o","t":400,"v":642},{"s":"o","t":450,"v":569},{"s":"o","t":500,"v":700},{"s":"o","t":550,"v":607},{"s":"o","t":600,"v":718},{"s":"o","t":650,"v":577},{"s":"o","t":700,"v":656},{"s":"o","t":750,"v":547},{"s":"o","t":800,"v":682},{"s":"o","t":850,"v":613},{"s":"o","t":900,"v":704},{"s":"o","t":950,"v":591},{"s":"o","t":1000,"v":630},{"s":"o","t":1050,"v":557},{"s":"o","t":1100,"v":688},{"s":"o","t":1150,"v":595},{"s":"o","t":1200,"v":706},{"s":"o","t":1250,"v":565},{"s":"o","t":1300,"v":644},{"s":"o","t":1350,"v":535},{"s":"o","t":1400,"v":670},{"s":"o","t":1450,"v":601},{"s":"o","t":1500,"v":692},{"s":"o","t":1550,"v":579},{"s":"o","t":1600,"v":617},{"s":"o","t":1650,"v":544},{"s":"o","t":1700,"v":675},{"s":"o","t":1750,"v":581},{"s":"o","t":1800,"v":692},{"s":"o","t":1850,"v":551},{"s":"o","t":1900,"v":629},{"s":"o","t":1950,"v":520},{"s":"o","t":2000,"v":655},{"s":"o","t":2050,"v":585},{"s":"o","t":2100,"v":676},{"s":"o","t":2150,"v":563},{"s":"o","t":2200,"v":601},{"s":"o","t":2250,"v":528},{"s":"o","t":2300,"v":659},{"s":"o","t":2350,"v":565},{"s":"o","t":2400,"v":676},{"s":"o","t":2450,"v":535},{"s":"o","t":2500,"v":613},{"s":"o","t":2550,"v":504},{"s":"o","t":2600,"v":639},{"s":"o","t":2650,"v":569},{"s":"o","t":2700,"v":660},{"s":"o","t":2750,"v":547},{"s":"o","t":2800,"v":585},{"s":"o","t":2850,"v":512},{"s":"o","t":2900,"v":643},{"s":"o","t":2950,"v":549},{"s":"o","t":3000,"v":660},
{"s":"o","t":25,"v":600},{"s":"o","t":125,"v":700},{"s":"o","t":225,"v":580},{"s":"o","t":325,"v":650},{"s":"o","t":425,"v":700},{"s":"o","t":525,"v":560},{"s":"o","t":625,"v":640},{"s":"o","t":725,"v":700},{"s":"o","t":825,"v":570},{"s":"o","t":925,"v":650},{"s":"o","t":1025,"v":690},{"s":"o","t":1125,"v":560},{"s":"o","t":1225,"v":640},{"s":"o","t":1325,"v":690},{"s":"o","t":1425,"v":560},{"s":"o","t":1525,"v":640},{"s":"o","t":1625,"v":680},{"s":"o","t":1725,"v":560},{"s":"o","t":1825,"v":620},{"s":"o","t":1925,"v":660},{"s":"o","t":2025,"v":540},{"s":"o","t":2125,"v":620},{"s":"o","t":2225,"v":650},{"s":"o","t":2325,"v":540},{"s":"o","t":2425,"v":600},{"s":"o","t":2525,"v":640},{"s":"o","t":2625,"v":530},{"s":"o","t":2725,"v":610},{"s":"o","t":2825,"v":630},{"s":"o","t":2925,"v":520},{"s":"o","t":2990,"v":700},
{"s":"o","t":230,"v":2240},{"s":"o","t":230,"v":2350},{"s":"o","t":230,"v":2450},{"s":"o","t":232,"v":2500},{"s":"o","t":1680,"v":880},{"s":"o","t":1690,"v":780},
{"s":"i","t":0,"v":2050},{"s":"i","t":50,"v":1887},{"s":"i","t":100,"v":1998},{"s":"i","t":150,"v":1875},{"s":"i","t":200,"v":2057},{"s":"i","t":250,"v":1983},{"s":"i","t":300,"v":2110},{"s":"i","t":350,"v":1974},{"s":"i","t":400,"v":2028},{"s":"i","t":450,"v":1941},{"s":"i","t":500,"v":2110},{"s":"i","t":550,"v":1999},{"s":"i","t":600,"v":2143},{"s":"i","t":650,"v":1971},{"s":"i","t":700,"v":2075},{"s":"i","t":750,"v":1937},{"s":"i","t":800,"v":2103},{"s":"i","t":850,"v":2015},{"s":"i","t":900,"v":2127},{"s":"i","t":950,"v":1983},{"s":"i","t":1000,"v":2030},{"s":"i","t":1050,"v":1936},{"s":"i","t":1100,"v":2097},{"s":"i","t":1150,"v":1978},{"s":"i","t":1200,"v":2114},{"s":"i","t":1250,"v":1935},{"s":"i","t":1300,"v":2031},{"s":"i","t":1350,"v":1892},{"s":"i","t":1400,"v":2058},{"s":"i","t":1450,"v":1969},{"s":"i","t":1500,"v":2080},{"s":"i","t":1550,"v":1933},{"s":"i","t":1600,"v":1976},{"s":"i","t":1650,"v":1879},{"s":"i","t":1700,"v":2037},{"s":"i","t":1750,"v":1915},{"s":"i","t":1800,"v":2048},{"s":"i","t":1850,"v":1866},{"s":"i","t":1900,"v":1959},{"s":"i","t":1950,"v":1817},{"s":"i","t":2000,"v":1980},{"s":"i","t":2050,"v":1885},{"s":"i","t":2100,"v":1990},{"s":"i","t":2150,"v":1840},{"s":"i","t":2200,"v":1955},{"s":"i","t":2250,"v":1780},{"s":"i","t":2300,"v":1920},{"s":"i","t":2350,"v":1775},{"s":"i","t":2400,"v":1865},{"s":"i","t":2450,"v":1720},{"s":"i","t":2500,"v":1880},{"s":"i","t":2550,"v":1778},{"s":"i","t":2600,"v":1886},{"s":"i","t":2650,"v":1694},{"s":"i","t":2700,"v":1777},{"s":"i","t":2750,"v":1625},{"s":"i","t":2800,"v":1808},{"s":"i","t":2850,"v":1651},{"s":"i","t":2900,"v":1684},{"s":"i","t":2950,"v":1577},{"s":"i","t":3000,"v":1725},
{"s":"i","t":25,"v":1900},{"s":"i","t":125,"v":2060},{"s":"i","t":225,"v":1930},{"s":"i","t":325,"v":2080},{"s":"i","t":425,"v":2090},{"s":"i","t":525,"v":1960},{"s":"i","t":625,"v":2100},{"s":"i","t":725,"v":1990},{"s":"i","t":825,"v":1960},{"s":"i","t":925,"v":2060},{"s":"i","t":1025,"v":2100},{"s":"i","t":1125,"v":1960},{"s":"i","t":1225,"v":2060},{"s":"i","t":1325,"v":2080},{"s":"i","t":1425,"v":1920},{"s":"i","t":1525,"v":2040},{"s":"i","t":1625,"v":2020},{"s":"i","t":1725,"v":1880},{"s":"i","t":1825,"v":1990},{"s":"i","t":1925,"v":1900},{"s":"i","t":2025,"v":1850},{"s":"i","t":2125,"v":1950},{"s":"i","t":2225,"v":1890},{"s":"i","t":2325,"v":1830},{"s":"i","t":2425,"v":1900},{"s":"i","t":2525,"v":1760},{"s":"i","t":2625,"v":1700},{"s":"i","t":2725,"v":1790},{"s":"i","t":2825,"v":1700},{"s":"i","t":2925,"v":1620},{"s":"i","t":2990,"v":1560},
{"s":"i","t":1050,"v":2220},{"s":"i","t":1600,"v":2150},{"s":"i","t":480,"v":1700},{"s":"i","t":300,"v":1750},{"s":"i","t":2750,"v":1870}
]
},
"vconcat": [
{
 "width": 464, "height": 321,
 "resolve": {"scale": {"x": "independent", "y": "independent"}, "legend": {"color": "independent", "shape": "independent"}},
 "layer": [
  {
   "data": {"name": "A"},
   "mark": {"type": "point", "filled": true, "opacity": 1, "clip": true},
   "encoding": {
    "x": {"field": "t", "type": "quantitative", "scale": {"domain": [0, 5000], "nice": false, "zero": false},
      "axis": {"values": [0, 1000, 2000, 3000, 4000, 5000], "format": "d", "title": "Time (s)", "labelFontSize": 22, "titleFontSize": 28, "tickSize": -5, "labelPadding": 15, "titlePadding": 13}},
    "y": {"field": "v", "type": "quantitative", "scale": {"domain": [-100, 700], "nice": false, "zero": false},
      "axis": {"values": [-100, 0, 100, 200, 300, 400, 500, 600, 700], "format": "d", "title": "Normalized SFG Intensity", "labelFontSize": 22, "titleFontSize": 25, "tickSize": -5, "labelPadding": 18, "titlePadding": 9}},
    "size": {"field": "s", "type": "nominal", "scale": {"domain": ["o", "i"], "range": [100, 200]}, "legend": null},
    "color": {"field": "s", "type": "nominal", "scale": {"domain": ["o", "i"], "range": ["#000000", "#ff0000"]},
      "legend": {"orient": "none", "legendX": 198, "legendY": 17, "title": null, "labelExpr": "datum.value == 'o' ? '2880 cm⁻¹ (outer)' : '2070 cm⁻¹ (inner)'", "labelFontSize": 16, "symbolSize": 80, "labelOffset": 14, "rowPadding": 5, "padding": 0}},
    "shape": {"field": "s", "type": "nominal", "scale": {"domain": ["o", "i"], "range": ["square", "diamond"]},
      "legend": {"orient": "none", "legendX": 198, "legendY": 17, "title": null, "labelExpr": "datum.value == 'o' ? '2880 cm⁻¹ (outer)' : '2070 cm⁻¹ (inner)'", "labelFontSize": 16, "symbolSize": 80, "labelOffset": 14, "rowPadding": 5, "padding": 0}}
   }
  },
  {
   "resolve": {"axis": {"x": "independent", "y": "independent"}},
   "layer": [
    {
     "data": {"values": [{}]},
     "mark": {"type": "rect", "filled": false, "stroke": "#000", "strokeWidth": 1},
     "encoding": {
      "x": {"datum": 0, "type": "quantitative", "axis": null},
      "x2": {"datum": 800},
      "y": {"datum": -100, "type": "quantitative", "axis": null},
      "y2": {"datum": 700}
     }
    },
    {
     "data": {"name": "AI"},
     "mark": {"type": "point", "filled": true, "size": 6, "opacity": 1},
     "encoding": {
      "x": {"field": "t", "type": "quantitative", "scale": {"domain": [0, 800], "range": [281.5, 446.5], "nice": false, "zero": false},
        "axis": {"orient": "bottom", "offset": -134, "values": [0, 200, 400, 600, 800], "format": "d", "title": "Time (s)", "labelFontSize": 7, "titleFontSize": 8, "tickSize": -2, "labelPadding": 4, "titlePadding": 2, "domainWidth": 1}},
      "y": {"field": "v", "type": "quantitative", "scale": {"domain": [-100, 700], "range": [187, 73], "nice": false, "zero": false},
        "axis": {"orient": "left", "offset": -281.5, "values": [-100, 0, 100, 200, 300, 400, 500, 600, 700], "format": "d", "title": null, "labelFontSize": 6, "tickSize": -2, "labelPadding": 4, "domainWidth": 1}},
      "color": {"field": "s", "type": "nominal", "legend": null},
      "shape": {"field": "s", "type": "nominal", "legend": null}
     }
    }
   ]
  }
 ]
},
{
 "width": 464, "height": 319,
 "resolve": {"scale": {"x": "independent", "y": "independent"}, "legend": {"color": "independent", "shape": "independent"}},
 "layer": [
  {
   "data": {"name": "B"},
   "mark": {"type": "point", "filled": true, "opacity": 1, "clip": true},
   "encoding": {
    "x": {"field": "t", "type": "quantitative", "scale": {"domain": [0, 9000], "nice": false, "zero": false},
      "axis": {"values": [0, 2000, 4000, 6000, 8000], "format": "d", "title": "Time (s)", "labelFontSize": 22, "titleFontSize": 28, "tickSize": -5, "labelPadding": 15, "titlePadding": 13}},
    "y": {"field": "v", "type": "quantitative", "scale": {"domain": [0, 2500], "nice": false, "zero": false},
      "axis": {"values": [0, 500, 1000, 1500, 2000, 2500], "format": "d", "title": "Normalized SFG Intensity", "labelFontSize": 22, "titleFontSize": 25, "tickSize": -5, "labelPadding": 18, "titlePadding": 9}},
    "size": {"field": "s", "type": "nominal", "scale": {"domain": ["o", "i"], "range": [110, 125]}, "legend": null},
    "color": {"field": "s", "type": "nominal", "scale": {"domain": ["o", "i"], "range": ["#000000", "#ff0000"]},
      "legend": {"orient": "none", "legendX": 230, "legendY": 15, "title": null, "labelExpr": "datum.value == 'o' ? '2880 cm⁻¹ (outer)' : '2070 cm⁻¹ (inner)'", "labelFontSize": 16, "symbolSize": 80, "labelOffset": 18, "rowPadding": 7, "padding": 0}},
    "shape": {"field": "s", "type": "nominal", "scale": {"domain": ["o", "i"], "range": ["square", "circle"]},
      "legend": {"orient": "none", "legendX": 230, "legendY": 15, "title": null, "labelExpr": "datum.value == 'o' ? '2880 cm⁻¹ (outer)' : '2070 cm⁻¹ (inner)'", "labelFontSize": 16, "symbolSize": 80, "labelOffset": 18, "rowPadding": 7, "padding": 0}}
   }
  },
  {
   "resolve": {"axis": {"x": "independent", "y": "independent"}},
   "layer": [
    {
     "data": {"values": [{}]},
     "mark": {"type": "rect", "filled": false, "stroke": "#000", "strokeWidth": 1},
     "encoding": {
      "x": {"datum": 0, "type": "quantitative", "axis": null},
      "x2": {"datum": 3000},
      "y": {"datum": 0, "type": "quantitative", "axis": null},
      "y2": {"datum": 2500}
     }
    },
    {
     "data": {"name": "BI"},
     "mark": {"type": "point", "filled": true, "size": 7, "opacity": 1},
     "encoding": {
      "x": {"field": "t", "type": "quantitative", "scale": {"domain": [0, 3000], "range": [272.5, 448.5], "nice": false, "zero": false},
        "axis": {"orient": "bottom", "offset": -124, "values": [0, 500, 1000, 1500, 2000, 2500, 3000], "format": "d", "title": "Time (s)", "labelFontSize": 6, "titleFontSize": 8, "tickSize": -2, "labelPadding": 4, "titlePadding": 2, "domainWidth": 1}},
      "y": {"field": "v", "type": "quantitative", "scale": {"domain": [0, 2500], "range": [195, 74], "nice": false, "zero": false},
        "axis": {"orient": "left", "offset": -272.5, "values": [0, 500, 1000, 1500, 2000, 2500], "format": "d", "title": null, "labelFontSize": 6, "tickSize": -2, "labelPadding": 4, "domainWidth": 1}},
      "color": {"field": "s", "type": "nominal", "legend": null},
      "shape": {"field": "s", "type": "nominal", "legend": null}
     }
    }
   ]
  }
 ]
}
]
}
